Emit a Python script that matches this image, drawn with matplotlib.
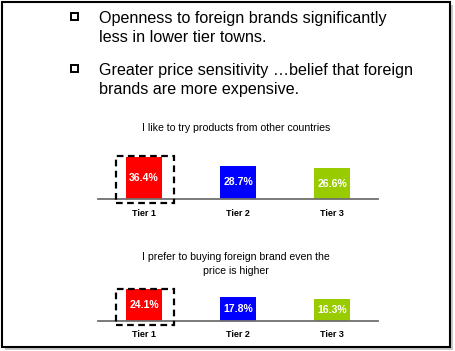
import matplotlib
matplotlib.use("Agg")
import matplotlib.pyplot as plt
from matplotlib.patches import Rectangle

# data
tiers = ["Tier 1", "Tier 2", "Tier 3"]
try_foreign = [36.4, 28.7, 26.6]
pay_more = [24.1, 17.8, 16.3]
bar_colors = ["#FF0000", "#0000FF", "#99CC00"]
bullets = [
    ["Openness to foreign brands significantly", "less in lower tier towns."],
    ["Greater price sensitivity \u2026belief that foreign", "brands are more expensive."],
]
title_top = "I like to try products from other countries"
title_bottom = "I prefer to buying foreign brand even the\nprice is higher"

W, H = 455, 351
fig = plt.figure(figsize=(W / 100, H / 100), dpi=100)
fig.patch.set_facecolor("white")
font = "Liberation Sans"


def px_axes(x0, y0, x1, y1):
    # axes from pixel box (top-left origin)
    return fig.add_axes([x0 / W, 1 - y1 / H, (x1 - x0) / W, (y1 - y0) / H])


def bar_panel(ax, values, scale_px, top_px, base_px, box_top):
    ax.bar(range(len(values)), values, width=0.39, color=bar_colors, zorder=2)
    ax.set_xlim(-0.489, 2.489)
    ax.set_ylim(0, (base_px - top_px) / scale_px)
    for s in ["top", "right", "left"]:
        ax.spines[s].set_visible(False)
    ax.spines["bottom"].set_color("#707070")
    ax.spines["bottom"].set_linewidth(1.3)
    ax.set_yticks([])
    ax.set_xticks(range(len(values)))
    ax.set_xticklabels(tiers, fontsize=6.5, fontweight="bold", family=font)
    ax.tick_params(axis="x", length=0, pad=7)
    ax.patch.set_alpha(0)
    for i, v in enumerate(values):
        ax.text(i, v / 2, "%.1f%%" % v, color="white", fontsize=7.6,
                fontweight="bold", ha="center", va="center", family=font, zorder=3)
    # dashed highlight box around tier 1
    ax.add_patch(Rectangle((-0.293, -4.5 / scale_px), 0.617, box_top + 4.5 / scale_px,
                           fill=False, ls=(0, (3, 2)), lw=1.6, ec="black",
                           clip_on=False, zorder=4))


ax1 = px_axes(98, 150, 378, 199)
bar_panel(ax1, try_foreign, 1.15, 150, 199, 37.4)

ax2 = px_axes(98, 280, 378, 320.5)
bar_panel(ax2, pay_more, 1.3, 280, 320.5, 24.5)

# overlay in pixel coordinates for frame and text
ov = fig.add_axes([0, 0, 1, 1])
ov.set_xlim(0, W)
ov.set_ylim(H, 0)
ov.axis("off")
ov.patch.set_alpha(0)

# shadow + frame
ov.add_patch(Rectangle((5, 5), 448, 345, fc="#c8c8c8", ec="none", zorder=0))
ov.add_patch(Rectangle((2, 2), 448, 345, fc="white", ec="black", lw=1.5, zorder=1))

baselines = [[23, 42], [75, 94]]
for lines, ys in zip(bullets, baselines):
    ov.add_patch(Rectangle((70.5, ys[0] - 10.5), 7, 7, fill=False, ec="black",
                           lw=1.4, zorder=3))
    for txt, y in zip(lines, ys):
        ov.text(99, y, txt, fontsize=11.6, family=font, va="baseline",
                ha="left", zorder=3)

ov.text(236, 131, title_top, fontsize=7.6, family=font, ha="center",
        va="baseline", zorder=3)
ov.text(236, 260, title_bottom.split("\n")[0], fontsize=7.6, family=font,
        ha="center", va="baseline", zorder=3)
ov.text(236, 274, title_bottom.split("\n")[1], fontsize=7.6, family=font,
        ha="center", va="baseline", zorder=3)

ov.set_zorder(-1)

fig.savefig("out.png", dpi=100)
